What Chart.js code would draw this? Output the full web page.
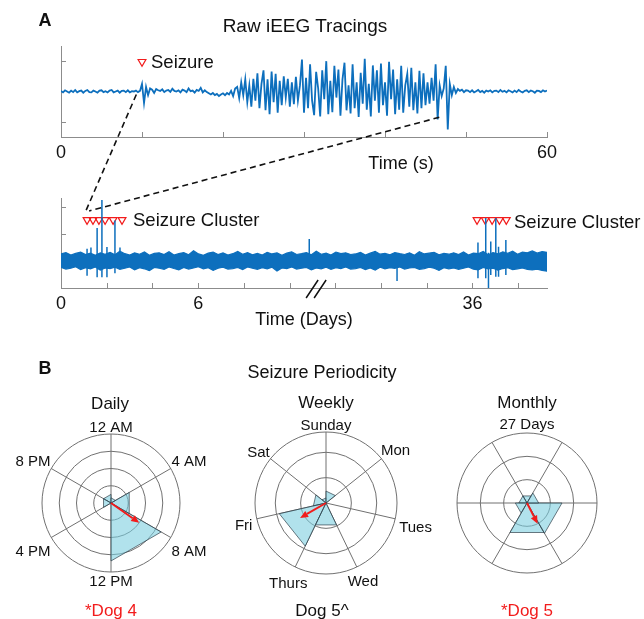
<!DOCTYPE html>
<html>
<head>
<meta charset="utf-8">
<script src="https://cdn.jsdelivr.net/npm/chart.js@4.4.1/dist/chart.umd.min.js"></script>
<style>
  body { margin: 0; background: #fff; }
  #fig { position: relative; width: 644px; height: 619px; overflow: hidden; font-family: "Liberation Sans", Arial, sans-serif; color: #111; }
  canvas { position: absolute; }
  .t { position: absolute; white-space: nowrap; transform: translate(-50%, -50%); font-size: 18px; line-height: 1; }
  .l { transform: translate(0, -50%); }
  .big { font-size: 19px; }
  .mid { font-size: 18.5px; }
  .panel { font-weight: bold; font-size: 18px; }
  .sub { font-size: 17px; }
  .small { font-size: 15px; }
  .red { color: #f21c1c; }
</style>
</head>
<body>
<div id="fig">
  <canvas id="rawChart" width="644" height="175" style="left:0;top:0"></canvas>
  <canvas id="daysChart" width="644" height="175" style="left:0;top:175px"></canvas>
  <canvas id="dailyChart" width="222" height="200" style="left:0;top:395px"></canvas>
  <canvas id="weeklyChart" width="230" height="200" style="left:212px;top:395px"></canvas>
  <canvas id="monthlyChart" width="170" height="200" style="left:442px;top:395px"></canvas>
  <canvas id="overlay" width="644" height="619" style="left:0;top:0"></canvas>

  <div class="t panel" style="left:45px;top:20px">A</div>
  <div class="t big" style="left:305px;top:25px">Raw iEEG Tracings</div>
  <div class="t l mid" style="left:151px;top:62px">Seizure</div>
  <div class="t" style="left:401px;top:163px">Time (s)</div>
  <div class="t l mid" style="left:133px;top:220px">Seizure Cluster</div>
  <div class="t l mid" style="left:514px;top:222px">Seizure Cluster</div>
  <div class="t" style="left:304px;top:319px">Time (Days)</div>

  <div class="t panel" style="left:45px;top:368px">B</div>
  <div class="t" style="left:322px;top:372px">Seizure Periodicity</div>
  <div class="t sub" style="left:110px;top:403px">Daily</div>
  <div class="t sub" style="left:326px;top:402px">Weekly</div>
  <div class="t sub" style="left:527px;top:402px">Monthly</div>
  <div class="t small" style="left:527px;top:423px">27 Days</div>
  <div class="t sub red" style="left:111px;top:610px">*Dog 4</div>
  <div class="t sub" style="left:322px;top:610px">Dog 5^</div>
  <div class="t sub red" style="left:527px;top:610px">*Dog 5</div>
</div>
<script>
const FONT = '"Liberation Sans", Arial, sans-serif';
const TRACE = '#0d6fbd';
const RED = '#f21c1c';
const AXIS = '#8c8c8c';
const GRID = '#707070';

// ---- A, top: raw iEEG, one sample every 0.25 s over 60 s ----
const rawStep = 0.25;
const rawValues = [
  0.02,-0.03,0.04,0.0,-0.04,0.03,-0.02,0.05,-0.03,0.01, 0.03,-0.04,0.02,0.05,-0.02,-0.03,0.03,0.0,-0.04,0.03,
  0.04,-0.02,0.01,-0.03,0.03,0.05,-0.03,0.0,0.03,-0.04, 0.02,0.03,-0.02,0.04,-0.03,0.01,0.0,0.03,-0.02,0.02,
  0.25,-0.38,0.15,-0.12,0.1,0.06,-0.05,0.08,
  0.04,0.02,0.07,-0.02,0.03,0.05,-0.01,0.09,0.02,0.0,0.04,-0.03,
  0.06,0.03,-0.02,0.1,0.01,0.03,-0.04,0.05,0.02,0.12,-0.03,0.04,
  -0.02,-0.06,-0.1,-0.05,-0.12,-0.08,-0.15,-0.1,-0.06,-0.12,-0.05,-0.1,
  0.02,-0.15,0.1,
  0.15,-0.22,0.3,-0.12,0.4,-0.35,0.2,-0.5,0.42,
  -0.3,0.6,-0.55,0.25,0.7,-0.62,0.4,-0.75,0.66,-0.35,0.58,-0.7,
  0.35,-0.45,0.5,-0.2,0.42,-0.5,0.3,-0.42,0.48,-0.3,
  0.2,1.05,-0.7,0.45,-0.55,0.9,-0.3,-0.78,0.65,0.1,
  -0.82,0.7,-0.25,1.0,-0.75,0.35,-0.68,0.85,-0.2,0.72,
  -0.8,0.4,0.95,-0.62,0.2,-0.72,0.9,-0.55,0.3,-0.84,
  0.62,-0.4,1.08,-0.6,0.25,-0.82,0.86,-0.3,0.7,-0.7,
  0.92,-0.45,0.3,-0.8,0.98,-0.25,0.72,-0.75,0.4,-0.6,
  0.85,-0.7,0.2,0.58,-0.5,0.78,-0.62,0.3,-0.72,0.68,
  -0.55,0.6,-0.45,0.3,-0.4,0.45,-0.3,0.9,-0.92,
  0.2,-0.15,0.1,0.85,-1.25,0.25,-0.12,0.15,-0.05,0.08,0.02,0.06,-0.02,0.04,
  0.03,-0.02,0.04,-0.03,0.01,0.05,-0.02,0.02,-0.04,0.03, 0.0,0.04,-0.03,0.02,0.03,-0.02,0.05,-0.01,0.02,-0.03,
  0.04,0.01,-0.03,0.03,-0.02,0.05,0.0,-0.03,0.02,0.04, -0.02,0.03,0.01,-0.04,0.03,0.02,-0.02,0.04,0.0,0.03
];
const rawTicks = [0, 10, 20, 30, 40, 50, 60];
const rawTickLabels = ['0', '', '', '', '', '', '60'];
const seizureTimes = [10];
const seizureMarkY = [0.98];

// ---- A, bottom: days-long recording, broken axis (0-10 days | 30-38 days) ----
// background activity drawn as its max/min envelope (as dense traces render)
const daysAxisMax = 10.63;
const bandHigh = [
  0.26,0.31,0.22,0.28,0.33,0.24,0.29,0.21,0.3,0.25, 0.32,0.23,0.36,0.27,0.22,0.3,0.25,0.33,0.21,0.28,
  0.3,0.24,0.34,0.22,0.27,0.31,0.23,0.38,0.26,0.21, 0.29,0.33,0.24,0.3,0.22,0.27,0.35,0.25,0.31,0.23,
  0.28,0.22,0.32,0.26,0.3,0.21,0.29,0.34,0.24,0.27, 0.31,0.23,0.36,0.25,0.29,0.22,0.33,0.27,0.3,0.24,
  0.26,0.32,0.22,0.29,0.35,0.25,0.28,0.23,0.31,0.27, 0.24,0.3,0.21,0.34,0.26,0.29,0.32,0.23,0.28,0.25,
  0.3,0.24,0.33,0.22,0.29,0.27,0.35,0.23,0.31,0.26, 0.34,0.28,0.36,0.25,0.33,0.3,0.37,0.29,0.35,0.32
];
const bandLow = [
  -0.24,-0.3,-0.27,-0.21,-0.32,-0.25,-0.29,-0.22,-0.34,-0.26, -0.28,-0.23,-0.31,-0.27,-0.22,-0.33,-0.25,-0.29,-0.36,-0.24,
  -0.27,-0.31,-0.22,-0.28,-0.33,-0.24,-0.3,-0.26,-0.21,-0.29, -0.25,-0.35,-0.27,-0.23,-0.3,-0.28,-0.24,-0.32,-0.22,-0.27,
  -0.31,-0.25,-0.29,-0.23,-0.37,-0.26,-0.28,-0.22,-0.3,-0.27, -0.24,-0.33,-0.26,-0.29,-0.23,-0.31,-0.25,-0.28,-0.22,-0.3,
  -0.28,-0.24,-0.32,-0.26,-0.34,-0.23,-0.29,-0.25,-0.27,-0.22, -0.3,-0.26,-0.24,-0.31,-0.28,-0.23,-0.27,-0.35,-0.25,-0.29,
  -0.26,-0.31,-0.27,-0.22,-0.3,-0.33,-0.24,-0.29,-0.27,-0.34, -0.28,-0.25,-0.32,-0.29,-0.26,-0.31,-0.33,-0.3,-0.35,-0.38
];
const spikeDays = [1.14, 1.31, 1.58, 1.79, 2.01, 2.36, 2.58, 10.86, 32.7, 36.24, 36.58, 36.7, 36.8, 37.02, 37.14, 37.46];
const spikeUp   = [0.45, 0.5, 1.22, 2.26, 0.52, 1.5, 0.5, 0.81, 0, 0.68, 1.59, 0.3, 0.72, 1.59, 0.53, 0.78];
const spikeDown = [-0.55, -0.3, -0.6, -0.6, -0.6, -0.45, -0.25, 0, -0.74, -0.64, -0.64, -1.0, -0.52, -0.58, -0.58, -0.52];
const clusterDays = [1.14, 1.40, 1.66, 1.93, 2.28, 2.67, 36.2, 36.56, 36.86, 37.18, 37.48];
const clusterMarkY = 1.52;
const dayTicks = [0, 2, 4, 6, 8, 10, 30, 32, 34, 36, 38];
const dayTickLabels = ['0', '', '', '6', '', '', '', '', '', '36', ''];
const axisBreakAt = 5.58;

// zoom lines from the raw trace to the first cluster
const zoomFromSec = [9.3, 46.7];
const zoomFromVal = [-0.1, -0.85];
const zoomToDay = [1.05, 1.23];
const zoomToVal = [1.78, 1.85];

// ---- B: rose histograms (bins between neighbouring spokes) ----
const dailyLabels = ['12 AM', '4 AM', '8 AM', '12 PM', '4 PM', '8 PM'];
const dailyBins = [0.3, 1.22, 3.36, 0, 0.5, 0.5];
const dailyRings = [0, 1, 2, 3, 4];
const dailyArrow = { angle: 125, length: 2.0 };

const weeklyLabels = ['Sunday', 'Mon', 'Tues', 'Wed', 'Thurs', 'Fri', 'Sat'];
const weeklyBins = [0.47, 0, 0, 0.96, 1.89, 0.51, 0.2];
const weeklyRings = [0, 1, 2, 2.8];
const weeklyArrow = { angle: 240, length: 1.18 };

const monthlyLabels = ['', '', '', '', '', ''];
const monthlyBins = [0.5, 1.5, 1.46, 0.5, 0.35, 0.35];
const monthlyRings = [0, 1, 2, 3];
const monthlyArrow = { angle: 153, length: 1.0 };

Chart.defaults.font.family = FONT;

function toAxis(day) {
  return day <= 11 ? day / 2 : (day - 18) / 2;
}

// MATLAB-like tick marks pointing into the plot
const innerTicks = {
  id: 'innerTicks',
  afterDatasetsDraw(chart, args, opts) {
    const { ctx, chartArea } = chart;
    const x = chart.scales.x, y = chart.scales.y;
    ctx.save();
    ctx.strokeStyle = opts.color;
    ctx.lineWidth = 1;
    ctx.beginPath();
    x.ticks.forEach(t => {
      const px = Math.round(x.getPixelForValue(t.value)) + 0.5;
      ctx.moveTo(px, chartArea.bottom);
      ctx.lineTo(px, chartArea.bottom - opts.length);
    });
    y.ticks.forEach(t => {
      const py = Math.round(y.getPixelForValue(t.value)) + 0.5;
      ctx.moveTo(chartArea.left, py);
      ctx.lineTo(chartArea.left + opts.length, py);
    });
    ctx.stroke();
    if (opts.breakAt !== undefined) {
      const bx = x.getPixelForValue(opts.breakAt);
      const by = chartArea.bottom;
      ctx.strokeStyle = '#111';
      ctx.lineWidth = 1.5;
      ctx.beginPath();
      ctx.moveTo(bx - 10, by + 10); ctx.lineTo(bx + 2, by - 8);
      ctx.moveTo(bx - 2, by + 10); ctx.lineTo(bx + 10, by - 8);
      ctx.stroke();
    }
    ctx.restore();
  }
};

function markerDataset(points) {
  return {
    data: points, showLine: false, pointStyle: 'triangle', rotation: 180,
    pointRadius: 4.5, borderColor: RED, borderWidth: 1.2, backgroundColor: 'rgba(0,0,0,0)'
  };
}

const rawChart = new Chart(document.getElementById('rawChart'), {
  type: 'line',
  data: {
    datasets: [
      { data: rawValues.map((v, i) => ({ x: i * rawStep, y: v })), borderColor: TRACE, borderWidth: 1.8, pointRadius: 0, tension: 0 },
      markerDataset(seizureTimes.map((t, i) => ({ x: t, y: seizureMarkY[i] })))
    ]
  },
  options: {
    responsive: false, animation: false,
    layout: { padding: { left: 61, right: 97, top: 46, bottom: 0 } },
    plugins: { legend: { display: false }, tooltip: { enabled: false }, innerTicks: { length: 5, color: AXIS } },
    scales: {
      x: {
        type: 'linear', min: 0, max: 60,
        afterBuildTicks: s => { s.ticks = rawTicks.map(v => ({ value: v })); },
        afterFit: s => { s.height = 38; },
        grid: { display: false }, border: { color: AXIS },
        ticks: { autoSkip: false, maxRotation: 0, padding: -3, color: '#111', font: { size: 18 },
                 callback: v => rawTickLabels[rawTicks.indexOf(v)] }
      },
      y: {
        min: -1.5, max: 1.5,
        afterBuildTicks: s => { s.ticks = [-1, 1].map(v => ({ value: v })); },
        afterFit: s => { s.width = 0; },
        grid: { display: false }, border: { color: AXIS }, ticks: { display: false }
      }
    }
  },
  plugins: [innerTicks]
});

const spikePoints = [];
spikeDays.forEach((d, i) => {
  const x = toAxis(d);
  spikePoints.push({ x, y: spikeUp[i] }, { x, y: spikeDown[i] }, { x, y: null });
});

const bandX = i => i * daysAxisMax / (bandHigh.length - 1);

const daysChart = new Chart(document.getElementById('daysChart'), {
  type: 'line',
  data: {
    datasets: [
      { data: bandHigh.map((v, i) => ({ x: bandX(i), y: v })), borderColor: TRACE, borderWidth: 1.2, pointRadius: 0, tension: 0 },
      { data: bandLow.map((v, i) => ({ x: bandX(i), y: v })), borderColor: TRACE, borderWidth: 1.2, pointRadius: 0, tension: 0,
        fill: '-1', backgroundColor: TRACE },
      { data: spikePoints, borderColor: TRACE, borderWidth: 1.5, pointRadius: 0, tension: 0, spanGaps: false },
      markerDataset(clusterDays.map(d => ({ x: toAxis(d), y: clusterMarkY })))
    ]
  },
  options: {
    responsive: false, animation: false,
    layout: { padding: { left: 61, right: 97, top: 23, bottom: 0 } },
    plugins: { legend: { display: false }, tooltip: { enabled: false }, innerTicks: { length: 5, color: AXIS, breakAt: axisBreakAt } },
    scales: {
      x: {
        type: 'linear', min: 0, max: daysAxisMax,
        afterBuildTicks: s => { s.ticks = dayTicks.map(d => ({ value: toAxis(d) })); },
        afterFit: s => { s.height = 62; },
        grid: { display: false }, border: { color: AXIS },
        ticks: { autoSkip: false, maxRotation: 0, padding: -3, color: '#111', font: { size: 18 },
                 callback: (v, i) => dayTickLabels[i] }
      },
      y: {
        min: -1, max: 2.33,
        afterBuildTicks: s => { s.ticks = [1, 2].map(v => ({ value: v })); },
        afterFit: s => { s.width = 0; },
        grid: { display: false }, border: { color: AXIS }, ticks: { display: false }
      }
    }
  },
  plugins: [innerTicks]
});

// spoke labels + mean-direction arrow on the rose plots
const roseExtras = {
  id: 'roseExtras',
  afterDatasetsDraw(chart, args, opts) {
    const s = chart.scales.r, ctx = chart.ctx;
    const n = chart.data.labels.length;
    ctx.save();
    ctx.font = '15px ' + FONT;
    ctx.fillStyle = '#111';
    ctx.textAlign = 'center';
    ctx.textBaseline = 'middle';
    opts.labels.forEach((txt, i) => {
      if (!txt) return;
      const a = s.getIndexAngle(i);
      const w = ctx.measureText(txt).width;
      const sa = Math.sin(a), ca = Math.cos(a);
      const d = s.drawingArea + 4 + Math.abs(sa) * w / 2 + Math.abs(ca) * 4;
      const p = s.getPointPosition(i, d);
      ctx.fillText(txt, p.x, p.y + 1.5 + 3 * sa * sa);
    });
    const start = chart.options.scales.r.startAngle || 0;
    const idx = (opts.arrow.angle - start) / (360 / n);
    const tip = s.getPointPositionForValue(idx, opts.arrow.length);
    const cx = s.xCenter, cy = s.yCenter;
    const phi = Math.atan2(tip.y - cy, tip.x - cx);
    const head = 8, half = 3.5;
    const bx = tip.x - head * Math.cos(phi), by = tip.y - head * Math.sin(phi);
    ctx.strokeStyle = RED;
    ctx.fillStyle = RED;
    ctx.lineWidth = 2;
    ctx.beginPath();
    ctx.moveTo(cx, cy);
    ctx.lineTo(bx, by);
    ctx.stroke();
    ctx.beginPath();
    ctx.moveTo(tip.x, tip.y);
    ctx.lineTo(bx + half * Math.sin(phi), by - half * Math.cos(phi));
    ctx.lineTo(bx - half * Math.sin(phi), by + half * Math.cos(phi));
    ctx.closePath();
    ctx.fill();
    ctx.restore();
  }
};

function roseChart(id, labels, bins, rings, startAngle, arrow, pad) {
  const n = labels.length;
  const datasets = [];
  bins.forEach((v, i) => {
    if (!v) return;
    const d = new Array(n).fill(0);
    d[i] = v;
    d[(i + 1) % n] = v;
    datasets.push({
      data: d, fill: true, backgroundColor: 'rgba(120,205,222,0.58)',
      borderColor: 'rgba(45,60,70,0.85)', borderWidth: 0.8, pointRadius: 0, tension: 0
    });
  });
  return new Chart(document.getElementById(id), {
    type: 'radar',
    data: { labels: labels.map(() => ''), datasets },
    options: {
      responsive: false, animation: false,
      layout: { padding: pad },
      plugins: { legend: { display: false }, tooltip: { enabled: false }, roseExtras: { labels, arrow } },
      scales: {
        r: {
          min: 0, max: rings[rings.length - 1], startAngle,
          afterBuildTicks: s => { s.ticks = rings.map(v => ({ value: v })); },
          ticks: { display: false },
          grid: { circular: true, color: GRID, lineWidth: 1 },
          angleLines: { color: GRID, lineWidth: 1 },
          pointLabels: { display: false }
        }
      }
    },
    plugins: [roseExtras]
  });
}

roseChart('dailyChart', dailyLabels, dailyBins, dailyRings, 0, dailyArrow, { left: 42, right: 42, top: 39, bottom: 23 });
roseChart('weeklyChart', weeklyLabels, weeklyBins, weeklyRings, 0, weeklyArrow, { left: 43, right: 45, top: 37, bottom: 21 });
roseChart('monthlyChart', monthlyLabels, monthlyBins, monthlyRings, 30, monthlyArrow, { left: 15, right: 15, top: 38, bottom: 22 });

// dashed zoom lines between the two panel-A charts
(function () {
  const ov = document.getElementById('overlay');
  const ctx = ov.getContext('2d');
  const rawTop = rawChart.canvas.offsetTop, daysTop = daysChart.canvas.offsetTop;
  ctx.strokeStyle = '#111';
  ctx.lineWidth = 1.6;
  ctx.setLineDash([6, 4]);
  zoomFromSec.forEach((t, i) => {
    const x1 = rawChart.scales.x.getPixelForValue(t);
    const y1 = rawChart.scales.y.getPixelForValue(zoomFromVal[i]) + rawTop;
    const x2 = daysChart.scales.x.getPixelForValue(toAxis(zoomToDay[i]));
    const y2 = daysChart.scales.y.getPixelForValue(zoomToVal[i]) + daysTop;
    ctx.beginPath();
    ctx.moveTo(x1, y1);
    ctx.lineTo(x2, y2);
    ctx.stroke();
  });
})();
</script>
</body>
</html>
